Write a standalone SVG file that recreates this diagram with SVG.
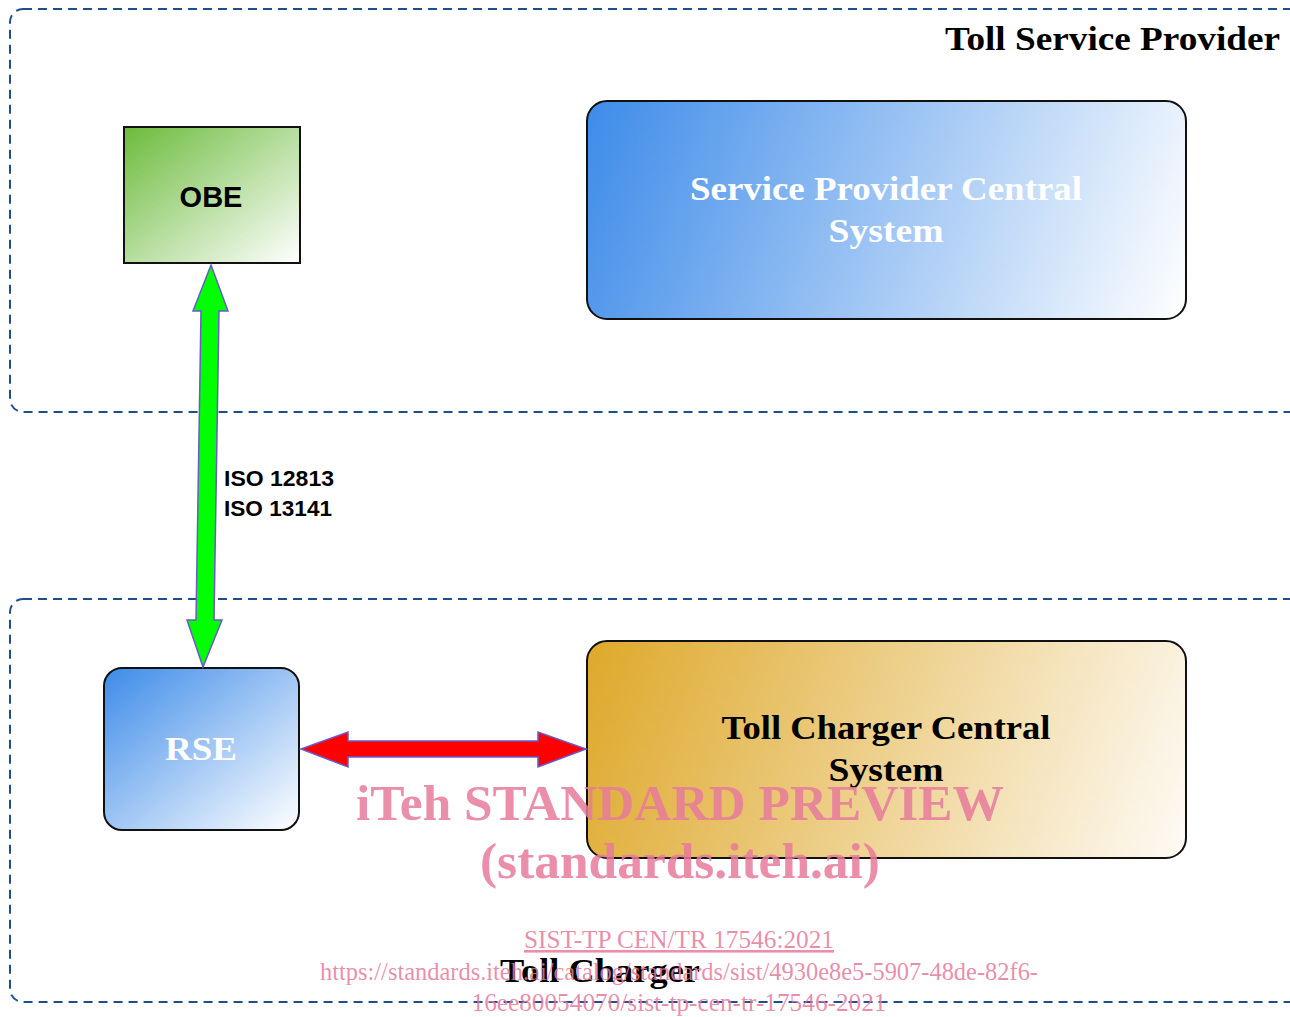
<svg xmlns="http://www.w3.org/2000/svg" width="1290" height="1017" viewBox="0 0 1290 1017">
  <defs>
    <linearGradient id="gGreen" x1="0" y1="0" x2="1" y2="1">
      <stop offset="0" stop-color="#6cbb3c"/>
      <stop offset="1" stop-color="#ffffff"/>
    </linearGradient>
    <linearGradient id="gBlue" x1="0" y1="0" x2="1" y2="1">
      <stop offset="0" stop-color="#3d8be9"/>
      <stop offset="1" stop-color="#ffffff"/>
    </linearGradient>
    <linearGradient id="gBlueWide" gradientUnits="userSpaceOnUse" x1="587" y1="101" x2="1186" y2="319">
      <stop offset="0" stop-color="#3d8be9"/>
      <stop offset="1" stop-color="#ffffff"/>
    </linearGradient>
    <linearGradient id="gGold" gradientUnits="userSpaceOnUse" x1="587" y1="641" x2="1186" y2="858">
      <stop offset="0" stop-color="#dea82a"/>
      <stop offset="1" stop-color="#fefbf6"/>
    </linearGradient>
    <style>
      .zone { fill: none; stroke: #1d4f8f; stroke-width: 2; stroke-dasharray: 9 6; }
      .box { stroke: #111; stroke-width: 2; }
      .zoneTitle { font-family: "Liberation Serif", serif; font-weight: bold; font-size: 33px; fill: #000; }
      .sysWhite { font-family: "Liberation Serif", serif; font-weight: bold; font-size: 34px; fill: #fff; text-anchor: middle; }
      .sysBlack { font-family: "Liberation Serif", serif; font-weight: bold; font-size: 34px; fill: #000; text-anchor: middle; }
      .sans { font-family: "Liberation Sans", Arial, sans-serif; font-weight: bold; fill: #000; }
      .link { stroke: #6a5acd; stroke-width: 1.5; stroke-linejoin: miter; }
      .wm { font-family: "Liberation Serif", serif; fill: #e67a9b; fill-opacity: 0.85; text-anchor: middle; }
    </style>
  </defs>

  <rect width="1290" height="1017" fill="#fff"/>

  <!-- domain boundaries -->
  <g id="zone-tsp">
    <rect class="zone" x="10" y="9" width="1292" height="403" rx="13"/>
    <text class="zoneTitle" x="1280" y="50" text-anchor="end" textLength="335" lengthAdjust="spacingAndGlyphs">Toll Service Provider</text>
  </g>
  <g id="zone-tc">
    <rect class="zone" x="10" y="599" width="1292" height="403" rx="13"/>
  </g>

  <!-- nodes -->
  <g id="obe">
    <rect class="box" x="124" y="127" width="176" height="136" fill="url(#gGreen)"/>
    <text class="sans" x="211" y="207" font-size="29" text-anchor="middle">OBE</text>
  </g>
  <g id="spcs">
    <rect class="box" x="587" y="101" width="599" height="218" rx="20" fill="url(#gBlueWide)"/>
    <text class="sysWhite" x="886" y="200" textLength="392" lengthAdjust="spacingAndGlyphs">Service Provider Central</text>
    <text class="sysWhite" x="886" y="242" textLength="115" lengthAdjust="spacingAndGlyphs">System</text>
  </g>
  <g id="rse">
    <rect class="box" x="104" y="668" width="195" height="162" rx="18" fill="url(#gBlue)"/>
    <text class="sysWhite" x="201" y="760" textLength="72" lengthAdjust="spacingAndGlyphs">RSE</text>
  </g>
  <g id="tccs">
    <rect class="box" x="587" y="641" width="599" height="217" rx="20" fill="url(#gGold)"/>
    <text class="sysBlack" x="886" y="739" textLength="329" lengthAdjust="spacingAndGlyphs">Toll Charger Central</text>
    <text class="sysBlack" x="886" y="781" textLength="115" lengthAdjust="spacingAndGlyphs">System</text>
  </g>

  <!-- connectors -->
  <g id="connectors">
    <!-- OBE <-> RSE radio link -->
    <polygon class="link" fill="#00ff00"
      points="211,265 228,311 219,311 214,620 222,620 203,667 187,620 196,620 201,311 193,311"/>
    <!-- RSE <-> Toll Charger Central System -->
    <polygon class="link" fill="#ff0000"
      points="301,749 348,732 348,741 538,741 538,732 586,749 538,767 538,757 348,757 348,767"/>
    <text class="sans" x="224" y="486" font-size="22" textLength="110" lengthAdjust="spacingAndGlyphs">ISO 12813</text>
    <text class="sans" x="224" y="516" font-size="22" textLength="108" lengthAdjust="spacingAndGlyphs">ISO 13141</text>
  </g>

  <text class="zoneTitle" x="600" y="982" text-anchor="middle" font-size="34" textLength="200" lengthAdjust="spacingAndGlyphs">Toll Charger</text>

  <!-- publisher overlay -->
  <g id="overlay">
    <text class="wm" x="680" y="820" font-size="50" font-weight="bold" textLength="648" lengthAdjust="spacingAndGlyphs">iTeh STANDARD PREVIEW</text>
    <text class="wm" x="680" y="878" font-size="50" font-weight="bold" textLength="400" lengthAdjust="spacingAndGlyphs">(standards.iteh.ai)</text>
    <text class="wm" x="679" y="948" font-size="26" text-decoration="underline" textLength="310" lengthAdjust="spacingAndGlyphs">SIST-TP CEN/TR 17546:2021</text>
    <text class="wm" x="679" y="980" font-size="26" textLength="718" lengthAdjust="spacingAndGlyphs">https://standards.iteh.ai/catalog/standards/sist/4930e8e5-5907-48de-82f6-</text>
    <text class="wm" x="679" y="1011" font-size="26" textLength="415" lengthAdjust="spacingAndGlyphs">16ee80054070/sist-tp-cen-tr-17546-2021</text>
  </g>
</svg>
